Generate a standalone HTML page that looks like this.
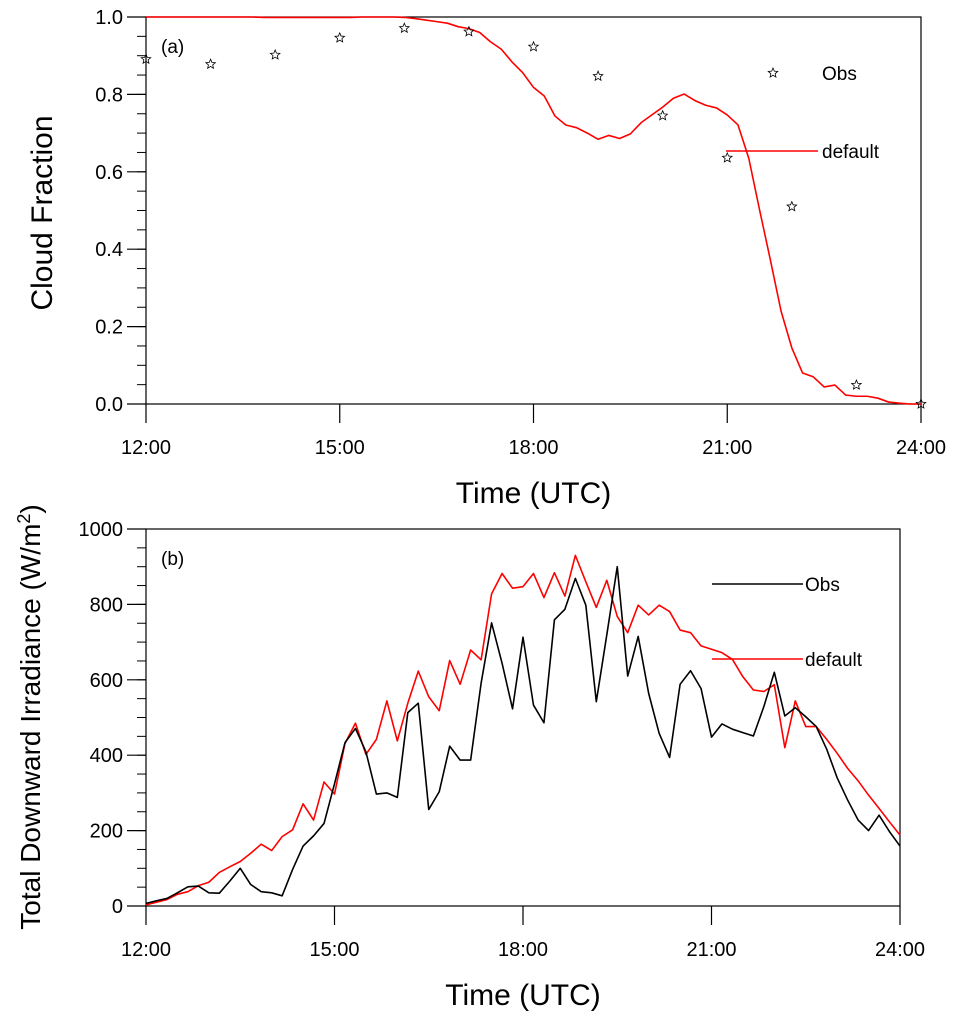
<!DOCTYPE html>
<html><head><meta charset="utf-8"><style>
body{margin:0;background:#fff;}
svg{display:block;font-family:"Liberation Sans",sans-serif;}
</style></head><body>
<svg id="c" width="957" height="1018" xmlns="http://www.w3.org/2000/svg"></svg>
<script>
const hourTicks=[12,15,18,21,24];
const hourLabels=["12:00","15:00","18:00","21:00","24:00"];
const cfTicks=[0,0.2,0.4,0.6,0.8,1.0];
const cfLabels=["0.0","0.2","0.4","0.6","0.8","1.0"];
const irrTicks=[0,200,400,600,800,1000];
const irrLabels=["0","200","400","600","800","1000"];
const cfObsHours=[12,13,14,15,16,17,18,19,20,21,22,23,24];
const cfObs=[0.891,0.878,0.902,0.946,0.971,0.962,0.923,0.847,0.745,0.636,0.51,0.049,0.0];
const cfModel=[1,1,1,1,1,1,1,1,1,1,1,0.999,0.999,0.999,0.999,0.999,0.999,0.999,0.999,0.999,1,1,1,1,0.999,0.996,0.992,0.988,0.984,0.975,0.970,0.960,0.936,0.917,0.884,0.856,0.818,0.796,0.744,0.721,0.714,0.700,0.684,0.694,0.686,0.698,0.727,0.747,0.767,0.790,0.801,0.784,0.772,0.765,0.747,0.721,0.635,0.502,0.373,0.240,0.145,0.08,0.07,0.044,0.049,0.023,0.02,0.02,0.015,0.005,0.002,0,0];
const irrObs=[7,14,20,35,51,53,35,34,66,100,57,38,35,27,97,159,186,219,324,433,471,409,297,300,288,513,538,256,303,424,387,387,591,751,644,523,713,533,486,759,787,869,798,542,719,900,610,715,564,458,394,588,624,577,448,483,469,460,451,529,620,504,526,502,476,416,340,281,228,200,241,197,159];
const irrModel=[3,10,17,31,38,54,63,89,104,118,140,164,147,184,202,271,228,329,297,431,485,402,442,544,438,538,623,555,518,651,588,679,653,828,882,843,847,882,818,884,822,930,860,792,864,768,725,798,772,798,781,732,725,690,681,672,654,608,573,569,587,420,544,476,476,442,405,365,332,294,259,223,188];

const svg=document.getElementById('c');
const NS="http://www.w3.org/2000/svg";
function mk(tag,attrs,parent){const e=document.createElementNS(NS,tag);for(const k in attrs)e.setAttribute(k,attrs[k]);(parent||svg).appendChild(e);return e;}
function txt(s,x,y,size,anchor,parent){const t=mk('text',{x:x,y:y,'font-size':size,'text-anchor':anchor||'middle',fill:'#000'},parent);t.textContent=s;return t;}

function panel(P){
  const g=mk('g',{});
  
  
  const X=h=>P.x0+(h-12)/12*(P.x1-P.x0);
  const Y=v=>P.y1-(v-P.vmin)/(P.vmax-P.vmin)*(P.y1-P.y0);
  const fr=mk('rect',{x:P.x0,y:P.y0,width:P.x1-P.x0,height:P.y1-P.y0,fill:'none',stroke:'#000','stroke-width':1.2},g);
  
  hourTicks.forEach((h,i)=>{
    mk('line',{x1:X(h),x2:X(h),y1:P.y1,y2:P.y1+19,stroke:'#000','stroke-width':1.2},g);
    const t=txt(hourLabels[i],X(h),P.y1+50,20,'middle',g);
    
  });
  for(let v=P.vmin;v<=P.vmax+1e-9;v+=P.minor){
    mk('line',{x1:P.x0-9,x2:P.x0,y1:Y(v),y2:Y(v),stroke:'#000','stroke-width':1},g);
  }
  P.ticks.forEach((v,i)=>{
    mk('line',{x1:P.x0-19,x2:P.x0,y1:Y(v),y2:Y(v),stroke:'#000','stroke-width':1.2},g);
    const t=txt(P.labels[i],P.x0-23,Y(v)+7,20,'end',g);
    
  });
  const xt=txt('Time (UTC)',(P.x0+P.x1)/2,P.y1+99,30,'middle',g);
  
  const yt=txt('',0,0,P.ytSize,'middle',g);
  yt.setAttribute('transform','translate('+P.ytx+','+P.yty+') rotate(-90)');
  
  P.ytFill(yt);
  const pl=txt(P.label,P.x0+15,P.y0+36,19,'start',g);
  
  return {g,X,Y};
}
function pathFrom(vals,X,Y,color,g,name){
  let d='';vals.forEach((v,i)=>{d+=(i?'L':'M')+X(12+i/6).toFixed(2)+','+Y(v).toFixed(2);});
  const p=mk('path',{d:d,fill:'none',stroke:color,'stroke-width':1.6,'stroke-linejoin':'round'},g);
  
}
function star(cx,cy,r,g){
  let pts=[];for(let k=0;k<10;k++){const a=-Math.PI/2+k*Math.PI/5;const rr=k%2?r*0.45:r;pts.push((cx+rr*Math.cos(a)).toFixed(2)+','+(cy+rr*Math.sin(a)).toFixed(2));}
  return mk('polygon',{points:pts.join(' '),fill:'none',stroke:'#000','stroke-width':0.8},g);
}

const A=panel({name:'panel-a-cloud-fraction',x0:146,x1:921,y0:17,y1:404,vmin:0,vmax:1,minor:0.05,ticks:cfTicks,labels:cfLabels,label:'(a)',ytx:52,yty:213,ytSize:30,ytFill:t=>{t.textContent='Cloud Fraction';}});
pathFrom(cfModel,A.X,A.Y,'#f00',A.g,'default-cloud-line');
cfObsHours.forEach((h,i)=>{const s=star(A.X(h),A.Y(cfObs[i]),5,A.g);});
const la=mk('g',{},A.g);
star(773,73,5,la);
txt('Obs',822,80,19,'start',la);
mk('line',{x1:726,x2:818,y1:151,y2:151,stroke:'#f00','stroke-width':1.6},la);
txt('default',822,158,19,'start',la);

const B=panel({name:'panel-b-irradiance',x0:146,x1:900,y0:529,y1:906,vmin:0,vmax:1000,minor:50,ticks:irrTicks,labels:irrLabels,label:'(b)',ytx:40,yty:717,ytSize:28,ytFill:t=>{
  const a=document.createElementNS(NS,'tspan');a.textContent='Total Downward Irradiance (W/m';t.appendChild(a);
  const b=document.createElementNS(NS,'tspan');b.setAttribute('dy','-10');b.setAttribute('font-size','18');b.textContent='2';t.appendChild(b);
  const c=document.createElementNS(NS,'tspan');c.setAttribute('dy','10');c.textContent=')';t.appendChild(c);}});
pathFrom(irrModel,B.X,B.Y,'#f00',B.g,'default-irradiance-line');
pathFrom(irrObs,B.X,B.Y,'#000',B.g,'obs-irradiance-line');
const lb=mk('g',{},B.g);
mk('line',{x1:712,x2:803,y1:584,y2:584,stroke:'#000','stroke-width':1.6},lb);
txt('Obs',805,591,19,'start',lb);
mk('line',{x1:712,x2:803,y1:659,y2:659,stroke:'#f00','stroke-width':1.6},lb);
txt('default',805,666,19,'start',lb);
</script>
</body></html>
